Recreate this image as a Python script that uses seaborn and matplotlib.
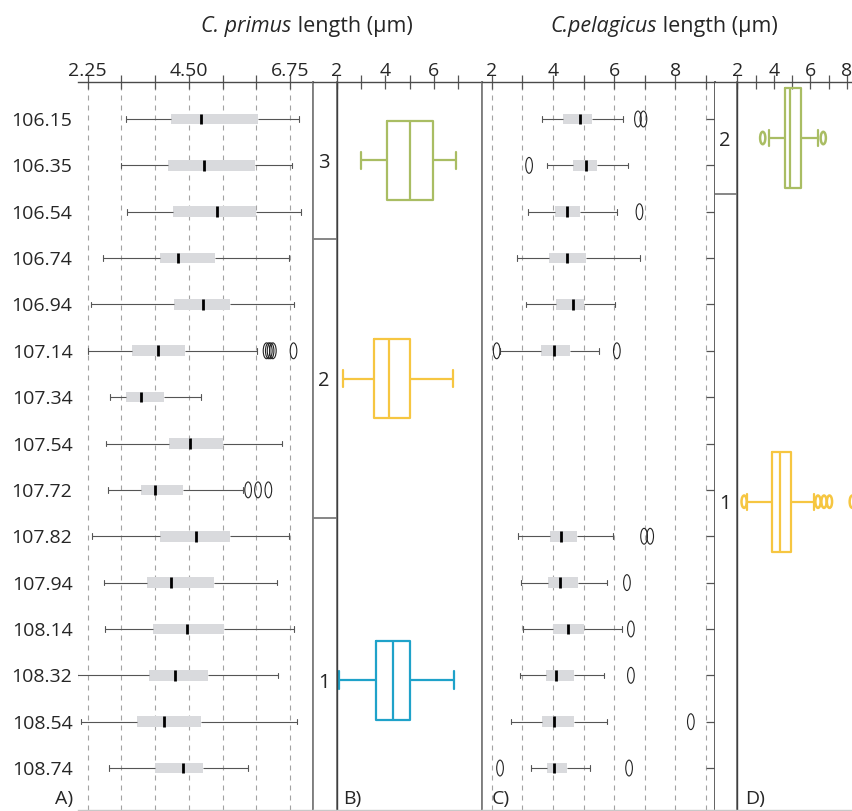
import numpy as np
import pandas as pd
import matplotlib
matplotlib.use("Agg")
import matplotlib.pyplot as plt
from matplotlib.path import Path
from matplotlib.transforms import blended_transform_factory
import seaborn as sns

# ---------------- data ----------------
DEPTHS = ["106.15", "106.35", "106.54", "106.74", "106.94", "107.14", "107.34",
          "107.54", "107.72", "107.82", "107.94", "108.14", "108.32", "108.54", "108.74"]

# Panel A: C. primus length (um): whisker low, Q1, median, Q3, whisker high
A_LOW  = [3.10, 2.99, 3.13, 2.59, 2.32, 2.26, 2.75, 2.65, 2.70, 2.34, 2.61, 2.64, 2.02, 2.09, 2.72]
A_Q1   = [4.10, 4.03, 4.15, 3.86, 4.18, 3.24, 3.10, 4.07, 3.44, 3.86, 3.56, 3.71, 3.61, 3.35, 3.75]
A_MED  = [4.78, 4.84, 5.13, 4.25, 4.82, 3.81, 3.44, 4.53, 3.74, 4.66, 4.10, 4.47, 4.19, 3.95, 4.38]
A_Q3   = [6.05, 5.97, 5.99, 5.08, 5.42, 4.41, 3.95, 5.25, 4.36, 5.42, 5.07, 5.29, 4.92, 4.77, 4.81]
A_HIGH = [6.96, 6.80, 7.00, 6.74, 6.83, 6.01, 4.77, 6.58, 5.70, 6.74, 6.47, 6.84, 6.49, 6.90, 5.82]
A_OUT_DEPTH = ["107.14", "107.14", "107.14", "107.14", "107.14", "107.72", "107.72", "107.72"]
A_OUT_VALUE = [6.23, 6.28, 6.32, 6.37, 6.83, 5.82, 6.04, 6.27]
A_TICKS = [2.25, 3.00, 3.75, 4.50, 5.25, 6.00, 6.75]
A_TICKLABELS = ["2.25", "", "", "4.50", "", "", "6.75"]

# Panel B: C. primus by zone
B_ZONES = ["3", "2", "1"]
B_LOW  = [3.01, 2.27, 2.10]
B_Q1   = [4.08, 3.54, 3.62]
B_MED  = [5.02, 4.17, 4.33]
B_Q3   = [5.98, 5.02, 5.02]
B_HIGH = [6.92, 6.77, 6.84]
B_TICKS = [2, 3, 4, 5, 6, 7]
B_TICKLABELS = ["2", "", "4", "", "6", ""]

# Panel C: C. pelagicus length (um) per depth
C_DEPTHS = ["106.15", "106.35", "106.54", "106.74", "106.94", "107.14",
            "107.82", "107.94", "108.14", "108.32", "108.54", "108.74"]
C_LOW  = [3.64, 3.82, 3.18, 2.82, 3.11, 2.27, 2.85, 2.96, 3.03, 2.93, 2.62, 3.28]
C_Q1   = [4.34, 4.67, 4.07, 3.88, 4.09, 3.61, 3.91, 3.85, 4.00, 3.77, 3.64, 3.80]
C_MED  = [4.89, 5.07, 4.47, 4.45, 4.65, 4.05, 4.26, 4.23, 4.49, 4.09, 4.04, 4.04]
C_Q3   = [5.27, 5.45, 4.87, 5.07, 5.02, 4.56, 4.80, 4.83, 5.02, 4.70, 4.70, 4.47]
C_HIGH = [6.30, 6.47, 6.09, 6.85, 6.03, 5.51, 5.98, 5.78, 6.27, 5.68, 5.76, 5.22]
C_OUT_DEPTH = ["106.15", "106.15", "106.35", "106.54", "107.14", "107.14", "107.82",
               "107.82", "107.94", "108.14", "108.32", "108.54", "108.74", "108.74"]
C_OUT_VALUE = [6.78, 6.96, 3.22, 6.83, 2.16, 6.09, 6.98, 7.18, 6.42, 6.55, 6.55, 8.51, 2.27, 6.49]
C_TICKS = [2, 3, 4, 5, 6, 7, 8, 9]
C_TICKLABELS = ["2", "", "4", "", "6", "", "8", ""]

# Panel D: C. pelagicus by zone
D_ZONES = ["2", "1"]
D_LOW  = [3.75, 2.51]
D_Q1   = [4.60, 3.88]
D_MED  = [4.89, 4.34]
D_Q3   = [5.49, 4.94]
D_HIGH = [6.44, 6.22]
D_OUT_ZONE  = ["2", "2", "1", "1", "1", "1", "1"]
D_OUT_VALUE = [3.39, 6.71, 2.37, 6.42, 6.75, 7.05, 8.30]
D_TICKS = [2, 3, 4, 5, 6, 7, 8]
D_TICKLABELS = ["2", "", "4", "", "6", "", "8"]

# ---------------- style / layout ----------------
GREEN, YELLOW, BLUE = "#a9bd63", "#f6c641", "#1fa2c9"
B_COLORS = [GREEN, YELLOW, BLUE]
D_COLORS = [GREEN, YELLOW]
BOX_GRAY = "#d9dadd"
WHISK = "#555555"
SEP = "#7d7d7d"

# zone edges expressed in row units (rows of the depth axis)
AB_ZONE_EDGES = [-0.80, 2.59, 8.61, 15.60]
CD_ZONE_EDGES = [-0.80, 1.62, 14.89]

sns.set_theme(style="white")
plt.rcParams["font.family"] = ["Open Sans", "DejaVu Sans"]
FS = 14
TITLE_FS = 15.5

W, H = 853, 811
fig = plt.figure(figsize=(W / 100, H / 100), dpi=100)
TOP, BOT = 82.0, 809.5
ROW0_PX, ROW_STEP_PX = 119.0, 46.36
YLIM = ((BOT - ROW0_PX) / ROW_STEP_PX, (TOP - ROW0_PX) / ROW_STEP_PX)


def add_ax(x0, x1):
    return fig.add_axes([x0 / W, 1 - BOT / H, (x1 - x0) / W, (BOT - TOP) / H])


axA = add_ax(78.0, 312.7)
axAB = add_ax(312.7, 336.7)
axB = add_ax(336.7, 482.0)
axC = add_ax(482.0, 715.0)
axCD = add_ax(715.0, 737.0)
axD = add_ax(737.0, 853.0)

circ = Path.unit_circle()
ELLIPSE = Path(circ.vertices * np.array([0.42, 1.0]), circ.codes)


def long_df(positions, low, q1, med, q3, high):
    recs = []
    for p, a, b, c, d, e in zip(positions, low, q1, med, q3, high):
        for v in (a, b, c, d, e):
            recs.append({"row": float(p), "length": v})
    return pd.DataFrame(recs)


def gray_boxes(ax, labels, low, q1, med, q3, high, out_labels, out_vals):
    pos = [DEPTHS.index(d) for d in labels]
    df = long_df(pos, low, q1, med, q3, high)
    sns.boxplot(data=df, x="length", y="row", orient="y", native_scale=True,
                width=0.23, whis=(0, 100), showfliers=False, color=BOX_GRAY,
                saturation=1, linewidth=0.8,
                boxprops=dict(edgecolor="none", linewidth=0),
                whiskerprops=dict(color=WHISK, linewidth=0.8),
                capprops=dict(color=WHISK, linewidth=0.8),
                medianprops=dict(color="black", linewidth=2.0),
                capwidths=0.12, ax=ax)
    opos = [DEPTHS.index(d) for d in out_labels]
    sns.scatterplot(x=out_vals, y=opos, marker=ELLIPSE, s=130, facecolor="none",
                    edgecolor="#222222", linewidth=0.8, legend=False, ax=ax, zorder=4)


def zone_centers(edges):
    return [(edges[i] + edges[i + 1]) / 2 for i in range(len(edges) - 1)]


def color_boxes(ax, centers, colors, low, q1, med, q3, high, width, capw):
    for c, col, a, b, m, d, e in zip(centers, colors, low, q1, med, q3, high):
        df = long_df([c], [a], [b], [m], [d], [e])
        sns.boxplot(data=df, x="length", y="row", orient="y", native_scale=True,
                    width=width, whis=(0, 100), showfliers=False, fill=False,
                    color=col, linewidth=1.6, capwidths=capw, ax=ax)


# ---- Panel A
gray_boxes(axA, DEPTHS, A_LOW, A_Q1, A_MED, A_Q3, A_HIGH, A_OUT_DEPTH, A_OUT_VALUE)
axA.set_xlim(2.034, 7.257)
axA.set_xticks(A_TICKS, A_TICKLABELS)
axA.set_yticks(range(len(DEPTHS)), DEPTHS)
axA.tick_params(axis="y", length=0, pad=4, labelsize=FS)

# ---- Panel B
ab_centers = zone_centers(AB_ZONE_EDGES)
color_boxes(axB, ab_centers, B_COLORS, B_LOW, B_Q1, B_MED, B_Q3, B_HIGH, 1.70, 0.38)
axB.set_xlim(2.0, 7.98)
axB.set_xticks(B_TICKS, B_TICKLABELS)
axB.set_yticks([])

# ---- Panel C
gray_boxes(axC, C_DEPTHS, C_LOW, C_Q1, C_MED, C_Q3, C_HIGH, C_OUT_DEPTH, C_OUT_VALUE)
axC.set_xlim(1.68, 9.30)
axC.set_xticks(C_TICKS, C_TICKLABELS)
axC.set_yticks(range(len(DEPTHS)))
axC.yaxis.set_ticks_position("right")
axC.tick_params(axis="y", direction="in", length=6.5, width=0.9, color=WHISK,
                labelright=False, labelleft=False)

# ---- Panel D
cd_centers = zone_centers(CD_ZONE_EDGES)
color_boxes(axD, cd_centers, D_COLORS, D_LOW, D_Q1, D_MED, D_Q3, D_HIGH, 2.15, 0.34)
d_out_pos = [cd_centers[D_ZONES.index(z)] for z in D_OUT_ZONE]
sns.scatterplot(x=D_OUT_VALUE, y=d_out_pos, marker=ELLIPSE, s=80, facecolor="none",
                edgecolor=[D_COLORS[D_ZONES.index(z)] for z in D_OUT_ZONE],
                linewidth=1.8, legend=False, ax=axD, zorder=4)
axD.set_xlim(1.98, 8.34)
axD.set_xticks(D_TICKS, D_TICKLABELS)
axD.set_yticks([])

# ---- common styling for the data panels
for ax in (axA, axB, axC, axD):
    ax.set_ylim(*YLIM)
    ax.set_xlabel("")
    ax.set_ylabel("")
    ax.xaxis.tick_top()
    ax.tick_params(axis="x", direction="inout", length=10, width=0.9, color=WHISK,
                   labelsize=FS, pad=-3.5, labeltop=True, labelbottom=False)
    ax.set_facecolor("white")
    for s in ax.spines.values():
        s.set_visible(True)
    ax.spines["top"].set_color("#4a4a4a")
    ax.spines["top"].set_linewidth(1.0)
    ax.spines["bottom"].set_color("#c8c8c8")
    ax.spines["bottom"].set_linewidth(1.0)
    ax.spines["left"].set_color(SEP)
    ax.spines["left"].set_linewidth(1.3)
    ax.spines["right"].set_color(SEP)
    ax.spines["right"].set_linewidth(1.3)

axA.spines["left"].set_visible(False)
axB.spines["left"].set_color("#3f3f3f")
axB.spines["left"].set_linewidth(1.0)
axD.spines["left"].set_color("#3f3f3f")
axD.spines["left"].set_linewidth(1.0)
axD.spines["right"].set_visible(False)
axC.spines["right"].set_color("#555555")

for ax in (axA, axC):
    ax.grid(axis="x", linestyle=(0, (4.5, 4.5)), color="#a3a3a3", linewidth=0.8)
    ax.set_axisbelow(True)
for ax in (axB, axD):
    ax.grid(False)

# ---- zone (depth-column) axes
for ax, edges, labels in ((axAB, AB_ZONE_EDGES, B_ZONES), (axCD, CD_ZONE_EDGES, D_ZONES)):
    ax.set_ylim(*YLIM)
    ax.set_xlim(0, 1)
    ax.set_xticks([])
    ax.set_yticks([])
    ax.grid(False)
    for s in ax.spines.values():
        s.set_visible(True)
        s.set_color(SEP)
        s.set_linewidth(1.3)
    ax.spines["top"].set_color("#4a4a4a")
    ax.spines["top"].set_linewidth(1.0)
    ax.spines["bottom"].set_color("#c8c8c8")
    ax.spines["bottom"].set_linewidth(1.0)
    for e in edges[1:-1]:
        ax.axhline(e, color=SEP, linewidth=1.3)
    trans = blended_transform_factory(ax.transAxes, ax.transData)
    for c, lab in zip(zone_centers(edges), labels):
        ax.text(0.45, c, lab, transform=trans, ha="center", va="center_baseline",
                fontsize=FS + 0.5)
axCD.spines["left"].set_visible(False)

# ---- panel letters
for txt, xpx, ha in (("A)", 73, "right"), ("B)", 343, "left"), ("C)", 492, "left"),
                     ("D)", 745, "left")):
    fig.text(xpx / W, 1 - 797 / H, txt, ha=ha, va="center_baseline", fontsize=FS)

# ---- titles with italic species names
fig.canvas.draw()
renderer = fig.canvas.get_renderer()


def rich_title(xc, yc, pieces):
    texts = [fig.text(0, 0, s, fontsize=TITLE_FS, style=st, ha="left", va="center_baseline")
             for s, st in pieces]
    widths = [t.get_window_extent(renderer).width for t in texts]
    x = xc - sum(widths) / 2
    for t, w in zip(texts, widths):
        t.set_position((x / W, 1 - yc / H))
        x += w


rich_title(307, 24, [("C. primus", "italic"), (" length (µm)", "normal")])
rich_title(664, 24, [("C.pelagicus", "italic"), (" length (µm)", "normal")])

fig.savefig("out.png", dpi=100, facecolor="white")
